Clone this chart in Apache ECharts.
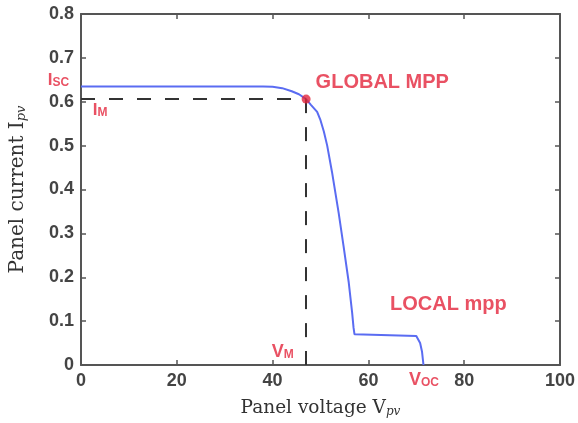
<!DOCTYPE html>
<html>
<head>
<meta charset="utf-8">
<script src="https://cdn.jsdelivr.net/npm/echarts@6/dist/echarts.min.js"></script>
<style>html,body{margin:0;padding:0;background:#fff}#c{width:578px;height:423px}</style>
</head>
<body>
<div id="c"></div>
<script>
// I-V curve (voltage, current)
var voltage = [0, 38, 40, 42, 44, 45.5, 47, 48, 49.3, 50.0, 50.7, 51.4, 52.4, 53.8, 54.8, 55.9, 56.6, 56.9, 57.1, 57.4, 70, 70.4, 70.8, 71.2, 71.5];
var current = [0.635, 0.635, 0.634, 0.631, 0.624, 0.617, 0.606, 0.593, 0.577, 0.558, 0.532, 0.500, 0.440, 0.346, 0.272, 0.188, 0.120, 0.085, 0.070, 0.066, 0.066, 0.062, 0.050, 0.030, 0];
// Global MPP
var mppV = 47, mppI = 0.606;
// Tick settings
var xTicks = [0, 20, 40, 60, 80, 100];
var yTicks = [0, 0.1, 0.2, 0.3, 0.4, 0.5, 0.6, 0.7, 0.8];
// Annotations: [x, y, rich text]
var annX = [-4.7, 4.0, 62.9, 76.7, 42.1, 71.6];
var annY = [0.650, 0.581, 0.643, 0.137, 0.030, -0.034];
var annText = ['{b|I}{s|SC}', '{b|I}{s|M}', '{t|GLOBAL MPP}', '{t|LOCAL mpp}', '{v|V}{s|M}', '{v|V}{s|OC}'];

var red = '#e3263c';
var axisCol = '#555';
var curve = voltage.map(function (v, i) { return [v, current[i]]; });
var annData = annX.map(function (x, i) { return { value: [x, annY[i]], txt: annText[i] }; });

var chart = echarts.init(document.getElementById('c'), null, { renderer: 'canvas' });
var tickLabel = { color: '#444', fontFamily: 'Liberation Sans, Arial, sans-serif', fontWeight: 'bold', fontSize: 18 };
function nameRich(size) {
  return {
    m: { fontFamily: 'DejaVu Serif', fontSize: size, color: '#333', lineHeight: size + 3, verticalAlign: 'bottom' },
    s: { fontFamily: 'DejaVu Serif', fontStyle: 'italic', fontSize: Math.round(size * 0.65), color: '#333', lineHeight: 6, verticalAlign: 'bottom' }
  };
}
chart.setOption({
  backgroundColor: '#fff',
  animation: false,
  grid: { left: 79, right: 17, top: 14, bottom: 58, containLabel: false },
  xAxis: [{
    type: 'value', min: xTicks[0], max: xTicks[xTicks.length - 1], interval: 20,
    axisLine: { lineStyle: { color: axisCol, width: 2 } },
    axisTick: { inside: true, length: 5, lineStyle: { color: axisCol, width: 1.5 } },
    axisLabel: Object.assign({ margin: 7 }, tickLabel),
    splitLine: { show: false },
    name: '{m|Panel voltage V}{s|pv}', nameLocation: 'middle', nameGap: 31,
    nameTextStyle: { rich: nameRich(18.5) }
  }, {
    type: 'value', position: 'top', min: 0, max: 100, interval: 20,
    axisLine: { show: true, onZero: false, lineStyle: { color: axisCol, width: 2 } },
    axisTick: { show: true, inside: true, length: 5, lineStyle: { color: axisCol, width: 1.5 } },
    axisLabel: { show: false }, splitLine: { show: false }
  }],
  yAxis: [{
    type: 'value', min: yTicks[0], max: yTicks[yTicks.length - 1], interval: 0.1,
    axisLine: { show: true, onZero: false, lineStyle: { color: axisCol, width: 2 } },
    axisTick: { show: true, inside: true, length: 5, lineStyle: { color: axisCol, width: 1.5 } },
    axisLabel: Object.assign({ margin: 7 }, tickLabel),
    splitLine: { show: false },
    name: '{m|Panel current I}{s|pv}', nameLocation: 'middle', nameGap: 53, nameRotate: 90,
    nameTextStyle: { rich: nameRich(20) }
  }, {
    type: 'value', position: 'right', min: 0, max: 0.8, interval: 0.1,
    axisLine: { show: true, onZero: false, lineStyle: { color: axisCol, width: 2 } },
    axisTick: { show: true, inside: true, length: 5, lineStyle: { color: axisCol, width: 1.5 } },
    axisLabel: { show: false }, splitLine: { show: false }
  }],
  series: [{
    type: 'line', data: curve, showSymbol: false, symbol: 'none', smooth: false,
    lineStyle: { color: '#5a6cf2', width: 2 }, z: 3,
    markLine: {
      silent: true, symbol: 'none', label: { show: false },
      lineStyle: { color: '#333', width: 2, type: [14, 14] },
      data: [
        [{ coord: [0, mppI] }, { coord: [mppV, mppI] }],
        [{ coord: [mppV, mppI] }, { coord: [mppV, 0] }]
      ]
    }
  }, {
    type: 'scatter', data: [[mppV, mppI]], symbolSize: 9, z: 5,
    itemStyle: { color: red }
  }, {
    type: 'scatter', data: annData, symbolSize: 0, clip: false, z: 6, silent: true,
    label: {
      show: true, position: 'inside',
      formatter: function (p) { return p.data.txt; },
      rich: {
        b: { color: red, fontFamily: 'Liberation Sans, Arial, sans-serif', fontWeight: 'bold', fontSize: 17, lineHeight: 17, verticalAlign: 'bottom' },
        v: { color: red, fontFamily: 'Liberation Sans, Arial, sans-serif', fontWeight: 'bold', fontSize: 18, lineHeight: 18, verticalAlign: 'bottom' },
        s: { color: red, fontFamily: 'Liberation Sans, Arial, sans-serif', fontWeight: 'bold', fontSize: 12, lineHeight: 11, verticalAlign: 'bottom' },
        t: { color: red, fontFamily: 'Liberation Sans, Arial, sans-serif', fontWeight: 'bold', fontSize: 20 }
      }
    }
  }]
});
</script>
</body>
</html>
